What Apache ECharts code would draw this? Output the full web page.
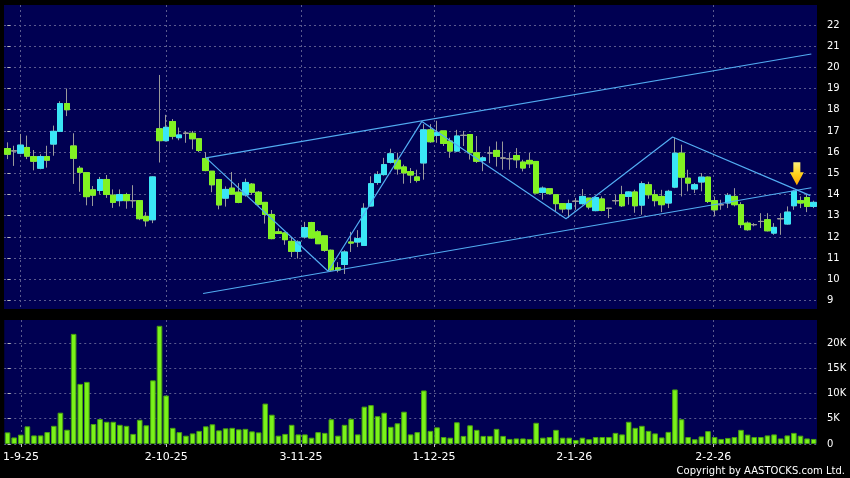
<!DOCTYPE html>
<html><head><meta charset="utf-8">
<script src="https://cdn.jsdelivr.net/npm/echarts@6/dist/echarts.min.js"></script>
<style>html,body{margin:0;padding:0;background:#000;}#c{width:850px;height:478px;}</style>
</head><body><div id="c"></div><script>
const dates = [
'28-8-25','29-8-25',
'1-9-25','2-9-25','3-9-25','4-9-25','5-9-25','8-9-25','9-9-25','10-9-25','11-9-25','12-9-25','15-9-25','16-9-25','17-9-25','18-9-25','19-9-25','22-9-25','23-9-25','24-9-25','25-9-25','26-9-25','29-9-25','30-9-25',
'2-10-25','3-10-25','6-10-25','8-10-25','9-10-25','10-10-25','13-10-25','14-10-25','15-10-25','16-10-25','17-10-25','20-10-25','21-10-25','22-10-25','23-10-25','24-10-25','27-10-25','28-10-25','30-10-25','31-10-25',
'3-11-25','4-11-25','5-11-25','6-11-25','7-11-25','10-11-25','11-11-25','12-11-25','13-11-25','14-11-25','17-11-25','18-11-25','19-11-25','20-11-25','21-11-25','24-11-25','25-11-25','26-11-25','27-11-25','28-11-25',
'1-12-25','2-12-25','3-12-25','4-12-25','5-12-25','8-12-25','9-12-25','10-12-25','11-12-25','12-12-25','15-12-25','16-12-25','17-12-25','18-12-25','19-12-25','22-12-25','23-12-25','24-12-25','29-12-25','30-12-25','31-12-25',
'2-1-26','5-1-26','6-1-26','7-1-26','8-1-26','9-1-26','12-1-26','13-1-26','14-1-26','15-1-26','16-1-26','19-1-26','20-1-26','21-1-26','22-1-26','23-1-26','26-1-26','27-1-26','28-1-26','29-1-26','30-1-26',
'2-2-26','3-2-26','4-2-26','5-2-26','6-2-26','9-2-26','10-2-26','11-2-26','12-2-26','13-2-26','16-2-26','20-2-26','23-2-26','24-2-26','25-2-26','26-2-26','27-2-26'
];
const opens = [
16.17,16.06,15.95,16.22,15.79,15.24,15.79,16.38,16.98,18.29,
16.29,15.24,15.03,14.22,14.19,14.71,13.97,13.71,14.00,13.71,
13.71,12.97,12.81,17.10,16.54,17.44,16.68,16.89,16.89,16.63,
15.70,15.10,14.71,13.83,14.30,14.11,13.98,14.49,14.11,13.63,
13.06,12.24,12.19,11.79,11.32,12.00,12.68,12.24,12.05,11.37,
10.54,10.70,11.76,11.76,11.60,13.46,14.57,14.94,15.52,15.62,
15.30,15.08,14.83,15.49,17.05,16.79,17.00,16.52,16.05,16.79,
16.83,15.97,15.60,15.96,16.08,15.72,15.69,15.84,15.53,15.61,
15.56,14.10,14.27,13.99,13.57,13.32,13.68,13.57,13.83,13.24,
13.79,13.35,13.71,13.99,13.91,14.12,13.50,14.46,13.99,13.91,
13.60,14.35,15.95,14.77,14.26,14.59,14.82,13.71,13.52,13.60,
13.91,13.52,12.65,12.58,12.73,12.81,12.18,12.86,12.61,13.47,
13.71,13.86,13.44];
const closes = [
15.90,16.06,16.33,15.81,15.57,15.79,15.62,16.98,18.29,18.00,
15.71,15.05,13.90,13.97,14.71,14.00,13.63,14.00,13.71,13.71,
12.86,12.76,14.83,16.54,17.17,16.75,16.81,16.89,16.63,16.08,
15.13,14.46,13.51,14.24,14.02,13.63,14.57,14.11,13.54,13.06,
11.92,12.16,11.87,11.32,11.76,12.44,11.95,11.68,11.37,10.44,
10.44,11.29,11.71,11.92,13.35,14.51,14.94,15.41,15.92,15.21,
15.02,14.92,14.67,17.05,16.49,16.92,16.41,16.05,16.76,16.79,
15.97,15.57,15.73,15.96,15.80,15.72,15.69,15.64,15.25,15.45,
14.07,14.30,14.04,13.57,13.32,13.57,13.68,13.91,13.41,13.86,
13.25,13.35,13.71,13.47,14.12,13.47,14.51,13.99,13.71,13.52,
14.15,15.95,14.82,14.54,14.46,14.82,13.67,13.28,13.52,13.96,
13.52,12.58,12.34,12.58,12.73,12.29,12.45,12.86,13.17,14.15,
13.60,13.44,13.63];
const lows = [
15.67,15.35,15.90,15.67,15.14,15.19,15.27,15.83,16.95,17.70,
14.50,14.13,13.49,13.46,14.03,13.84,13.37,13.44,13.33,13.37,
12.79,12.49,12.65,15.51,16.50,16.60,16.56,16.44,16.13,16.00,
15.10,14.11,13.30,13.43,13.98,13.59,13.90,13.98,13.48,12.63,
11.89,12.16,11.63,11.05,10.98,11.92,11.92,11.68,11.30,10.38,
10.33,10.25,11.29,11.52,11.60,13.43,14.46,14.89,15.46,14.94,
14.51,14.54,14.57,14.70,16.44,16.44,16.29,15.73,16.00,16.29,
15.65,15.49,15.10,15.48,15.32,15.17,15.17,15.25,15.09,15.25,
14.07,13.76,14.00,13.20,13.14,12.90,13.28,13.52,13.30,13.21,
13.21,12.89,13.52,13.41,13.52,13.14,13.05,13.80,13.44,13.17,
13.36,14.30,13.91,14.15,14.07,14.15,13.60,12.97,13.28,13.36,
13.44,12.42,12.29,12.50,12.42,12.26,12.10,12.10,12.58,13.28,
13.36,13.17,13.36];
const highs = [
16.46,16.30,16.86,16.78,16.10,15.90,16.30,17.25,18.40,19.00,
16.89,15.35,15.03,14.40,14.83,14.92,14.24,14.24,14.08,14.44,
13.71,13.17,14.86,19.64,17.76,17.56,17.16,17.00,17.00,16.63,
16.00,15.10,14.71,14.38,15.06,14.54,14.75,14.54,14.17,13.63,
13.27,12.40,12.24,12.00,11.84,12.71,12.71,12.32,12.05,11.40,
10.81,11.37,12.24,12.32,13.59,14.86,15.10,15.73,16.16,15.97,
15.41,15.25,15.17,17.32,17.32,17.48,17.00,16.68,17.05,17.00,
16.83,16.76,15.81,16.27,16.50,16.50,15.96,16.19,15.64,15.96,
15.56,14.38,14.27,13.99,13.57,13.76,13.84,14.26,13.83,13.91,
13.91,13.35,13.99,14.41,14.15,14.23,14.62,14.60,14.22,14.22,
14.22,16.69,16.35,15.17,14.54,15.01,14.85,13.91,13.75,14.07,
14.30,13.64,12.73,12.65,13.12,13.12,12.65,13.12,13.44,14.22,
13.91,14.02,13.71];
const volumes = [
2300,1300,1850,3500,1700,1700,2360,3600,6200,2830,
21800,11900,12300,3960,4950,4400,4400,3800,3600,2000,
4800,3700,12600,23400,9600,3200,2350,1650,2100,2600,
3500,3900,2700,3100,3200,2900,3000,2500,2300,8000,
5800,1650,2000,3800,1900,1900,1250,2350,2200,4900,
1650,3800,5000,1900,7400,7700,5500,6200,3400,4100,
6400,1900,2350,10600,2600,3300,1380,1250,4300,1600,
3700,2800,1600,1600,3000,1600,1000,1100,1100,1000,
4200,1250,1380,2800,1250,1250,800,1250,950,1380,
1380,1380,2200,1900,4400,3200,3600,2600,2100,1300,
2400,10800,4900,1380,950,1500,2550,1380,1000,1200,
1380,2800,1850,1380,1380,1700,1900,1100,1700,2200,
1650,1100,1000];
const priceTicks = [9,10,11,12,13,14,15,16,17,18,19,20,21,22];
const volumeTicks = [0,5000,10000,15000,20000];
const dateTickLabels = ['1-9-25','2-10-25','3-11-25','1-12-25','2-1-26','2-2-26'];
const dateTickAt = [2.03,24.02,44.41,64.54,85.77,106.81];
const upperLine = [[30.07,15.73],[121.64,20.63]];
const lowerLine = [[29.62,9.33],[121.64,14.32]];
const zigzag = [[30.07,15.73],[48.54,10.38],[62.72,17.45],[84.52,12.86],[100.65,16.71],[121.49,13.95]];
const arrowAt = [119.45,14.98];

const NAVY = '#000052', GRIDC = '#5a5a8e', UP = '#3AE6F6', DOWN = '#82F222', WICK = '#9a9a9a', TREND = '#52acf2';
const FONT = 'DejaVu Sans';
const wickData = opens.map((o,i)=>[o, closes[i], lows[i], highs[i]]);
const bodyData = opens.map((o,i)=>[o, closes[i], Math.min(o, closes[i]), Math.max(o, closes[i])]);
const dashed = {show:true, lineStyle:{color:GRIDC, type:[2,3], width:1}};
const dateFmt = v => { const k = dateTickAt.findIndex(t=>Math.abs(t-v)<0.01); return k>=0 ? dateTickLabels[k] : ''; };

const chart = echarts.init(document.getElementById('c'), null, {renderer:'canvas'});
chart.setOption({
  backgroundColor:'#000',
  animation:false,
  title:{text:'Copyright by AASTOCKS.com Ltd.', right:5, top:466, padding:0, textStyle:{color:'#fff', fontSize:10, fontWeight:'normal', fontFamily:FONT}},
  grid:[
    {left:4, right:33, top:5, height:304, show:true, backgroundColor:NAVY, borderWidth:0},
    {left:4, right:33, top:320, height:124, show:true, backgroundColor:NAVY, borderWidth:0}
  ],
  xAxis:[
    {type:'category', gridIndex:0, data:dates, boundaryGap:true, show:false},
    {type:'category', gridIndex:1, data:dates, boundaryGap:true, show:false},
    {type:'value', gridIndex:0, min:-0.5, max:122.5, axisLine:{show:false}, axisLabel:{show:false},
      axisTick:{show:false, customValues:dateTickAt}, splitLine:dashed},
    {type:'value', gridIndex:1, min:-0.5, max:122.5, position:'bottom', axisLine:{show:false},
      axisTick:{show:true, customValues:dateTickAt, length:3, lineStyle:{color:'#bbb'}},
      axisLabel:{customValues:dateTickAt, formatter:dateFmt, color:'#fff', fontSize:11, fontFamily:FONT, margin:8},
      splitLine:dashed}
  ],
  yAxis:[
    {type:'value', gridIndex:0, position:'right', min:8.6, max:22.94, offset:4, axisLine:{show:false},
      axisTick:{show:true, length:3, customValues:priceTicks, lineStyle:{color:'#bbb'}},
      axisLabel:{customValues:priceTicks, color:'#fff', fontSize:10, fontFamily:FONT, margin:6},
      splitLine:dashed},
    {type:'value', gridIndex:1, position:'right', min:0, max:24550, offset:4, axisLine:{show:false},
      axisTick:{show:true, length:3, customValues:volumeTicks, lineStyle:{color:'#bbb'}},
      axisLabel:{customValues:volumeTicks, color:'#fff', fontSize:10, fontFamily:FONT, margin:6,
        formatter:v=> v===0 ? '0' : (v/1000)+'K'},
      splitLine:dashed}
  ],
  series:[
    {type:'candlestick', xAxisIndex:0, yAxisIndex:0, data:wickData, barWidth:6,
      itemStyle:{color:WICK, color0:WICK, borderColor:WICK, borderColor0:WICK, borderColorDoji:WICK, borderWidth:1}},
    {type:'candlestick', xAxisIndex:0, yAxisIndex:0, data:bodyData, barWidth:6,
      itemStyle:{color:UP, color0:DOWN, borderColor:UP, borderColor0:DOWN, borderColorDoji:WICK, borderWidth:1}},
    {type:'bar', xAxisIndex:1, yAxisIndex:1, data:volumes, barWidth:5.6,
      itemStyle:{color:'#7AF21A', borderColor:'#48a010', borderWidth:1}},
    {type:'line', xAxisIndex:2, yAxisIndex:0, data:upperLine, symbol:'none', lineStyle:{color:TREND, width:1.2}, z:5},
    {type:'line', xAxisIndex:2, yAxisIndex:0, data:lowerLine, symbol:'none', lineStyle:{color:TREND, width:1.2}, z:5},
    {type:'line', xAxisIndex:2, yAxisIndex:0, data:zigzag, symbol:'none', lineStyle:{color:TREND, width:1.2}, z:5},
    {type:'scatter', xAxisIndex:2, yAxisIndex:0, data:[arrowAt], symbol:'path://M3.5,0L10.5,0L10.5,10L14,10L7,23L0,10L3.5,10Z',
      symbolSize:[14,23], z:6,
      itemStyle:{opacity:1, color:new echarts.graphic.LinearGradient(0,0,0,1,[{offset:0,color:'#FFF07A'},{offset:0.5,color:'#FFD21E'},{offset:1,color:'#FFA500'}])}}
  ]
});
</script></body></html>
